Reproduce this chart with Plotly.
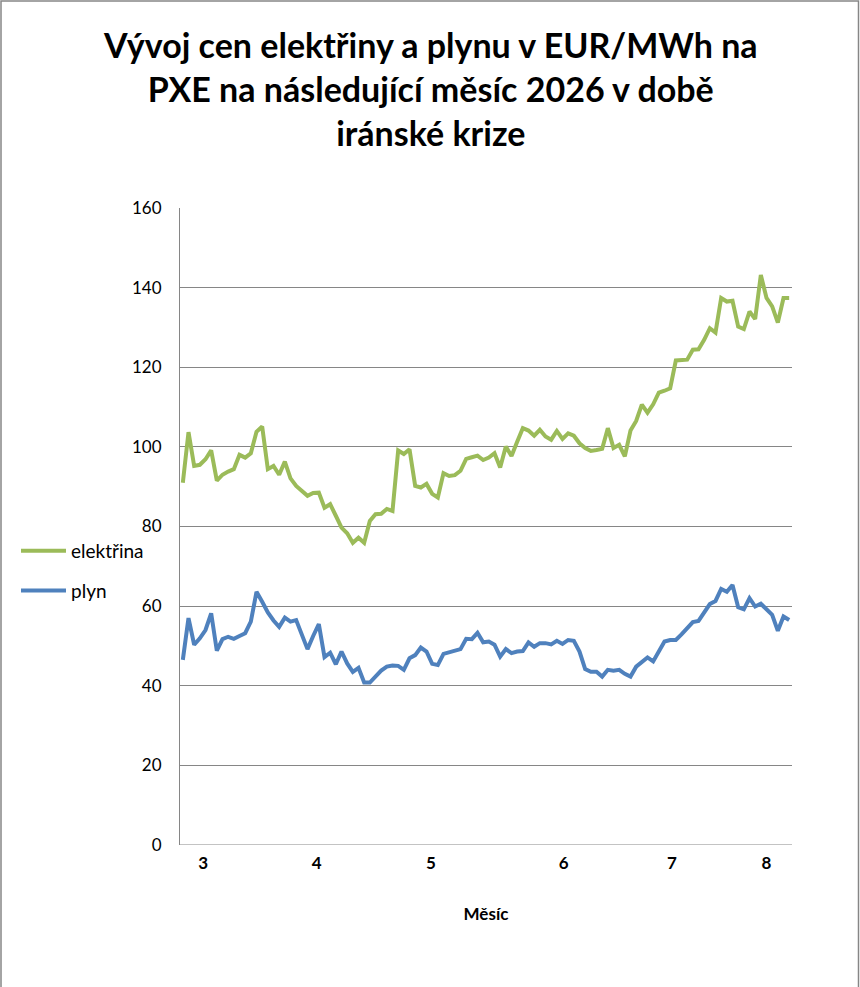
import plotly.graph_objects as go

# month-ahead prices, EUR/MWh, one value per trading day
elektrina = [
    91.0, 103.7, 95.2, 95.5, 96.9, 99.1, 91.5, 93.0, 93.8, 94.4,
    98.0, 97.3, 98.4, 103.8, 105.1, 94.4, 95.2, 93.0, 96.3, 92.1,
    90.2, 88.8, 87.7, 88.4, 88.5, 84.7, 85.6, 82.7, 79.7, 78.3,
    75.9, 77.2, 75.9, 81.4, 83.1, 83.2, 84.4, 83.9, 99.1, 98.2,
    99.4, 90.2, 89.8, 90.7, 88.2, 87.3, 93.4, 92.7, 92.9, 94.0,
    97.0, 97.4, 97.8, 96.7, 97.3, 98.4, 94.8, 100.1, 97.7, 101.3,
    104.7, 104.1, 102.8, 104.3, 102.6, 101.8, 104.0, 102.0, 103.4, 102.8,
    100.9, 99.7, 99.0, 99.2, 99.5, 104.7, 99.7, 100.5, 97.6, 104.1,
    106.5, 110.6, 108.6, 110.7, 113.6, 114.1, 114.7, 121.7, 121.9, 121.9,
    124.4, 124.5, 126.9, 129.8, 128.7, 137.4, 136.5, 136.7, 130.2, 129.6,
    134.0, 132.1, 143.2, 137.4, 135.3, 131.2, 137.4, 137.4,
]
plyn = [
    46.5, 57.0, 50.3, 51.9, 54.0, 58.2, 48.8, 51.7, 52.3, 51.8,
    52.5, 53.2, 56.1, 63.6, 61.1, 58.4, 56.4, 54.8, 57.1, 56.1,
    56.5, 52.8, 49.2, 52.5, 55.5, 47.2, 48.3, 45.4, 48.6, 45.6,
    43.5, 44.5, 40.8, 40.8, 42.3, 43.8, 44.8, 45.1, 45.0, 44.0,
    46.9, 47.7, 49.6, 48.6, 45.5, 45.2, 48.0, 48.4, 48.6, 49.2,
    51.8, 51.7, 53.3, 50.9, 51.1, 50.3, 47.3, 49.2, 48.2, 48.6,
    48.7, 50.9, 49.8, 50.7, 50.7, 50.4, 51.3, 50.5, 51.5, 51.3,
    48.6, 44.2, 43.5, 43.5, 42.3, 44.0, 43.8, 44.0, 43.0, 42.3,
    44.8, 46.1, 47.1, 46.1, 48.7, 51.1, 51.5, 51.5, 52.9, 54.4,
    56.0, 56.3, 58.6, 60.5, 61.3, 64.3, 63.6, 65.3, 59.7, 59.2,
    62.0, 59.9, 60.6, 59.2, 57.8, 53.8, 57.4, 56.5,
]
mesice = ["3", "4", "5", "6", "7", "8"]
mesic_pozice = [3.6, 23.6, 43.8, 67.2, 86.3, 103.0]

den = list(range(len(elektrina)))

fig = go.Figure()
fig.add_trace(go.Scatter(x=den, y=elektrina, name="elektřina", mode="lines",
                         line=dict(color="#9BBB59", width=4), legendgroup="e"))
fig.add_trace(go.Scatter(x=den, y=plyn, name="plyn", mode="lines",
                         line=dict(color="#4F81BD", width=4), legendgroup="p"))

L, R, T, B = 180, 68, 208, 142
W, H = 860, 987
pw, ph = W - L - R, H - T - B

fig.update_layout(
    width=W, height=H,
    margin=dict(l=L, r=R, t=T, b=B),
    paper_bgcolor="white", plot_bgcolor="white",
    font=dict(family="Lato", size=16, color="black"),
    legend=dict(x=(16 - L) / pw, xanchor="left", y=(H - B - 571) / ph, yanchor="middle",
                font=dict(size=19), tracegroupgap=12, traceorder="grouped",
                itemwidth=45, bgcolor="rgba(0,0,0,0)"),
    xaxis=dict(range=[-0.5, len(den) - 0.5], tickvals=mesic_pozice, ticktext=mesice,
               showgrid=False, zeroline=False, showline=False, ticks="",
               ticklabelstandoff=6,
               tickfont=dict(size=17, weight="bold"),
               title=dict(text="Měsíc", font=dict(size=17, weight="bold"), standoff=36)),
    yaxis=dict(range=[0, 160], dtick=20, showgrid=True, gridcolor="#868686", gridwidth=1,
               zeroline=False, showline=True, linecolor="#868686", linewidth=1,
               ticks="", ticklabelstandoff=14, tickfont=dict(size=17)),
    shapes=[dict(type="rect", xref="paper", yref="paper",
                 x0=(1 - L) / pw, x1=(W - 1.5 - L) / pw,
                 y0=(B - H + 3) / ph, y1=(H - 1 - B) / ph,
                 line=dict(color="#868686", width=1.5), layer="below")],
)
fig.add_annotation(
    text="Vývoj cen elektřiny a plynu v EUR/MWh na<br>PXE na následující měsíc 2026 v době<br>iránské krize",
    xref="paper", yref="paper", x=(W / 2 - L) / pw, y=(H - B - 22) / ph,
    xanchor="center", yanchor="top", showarrow=False,
    font=dict(family="Lato", size=34, color="black", weight="bold"),
)
fig.add_hline(y=0, line=dict(color="#868686", width=1))

fig.write_html("out.html", config={"displayModeBar": False},
               post_script="document.body.style.margin='0';")
